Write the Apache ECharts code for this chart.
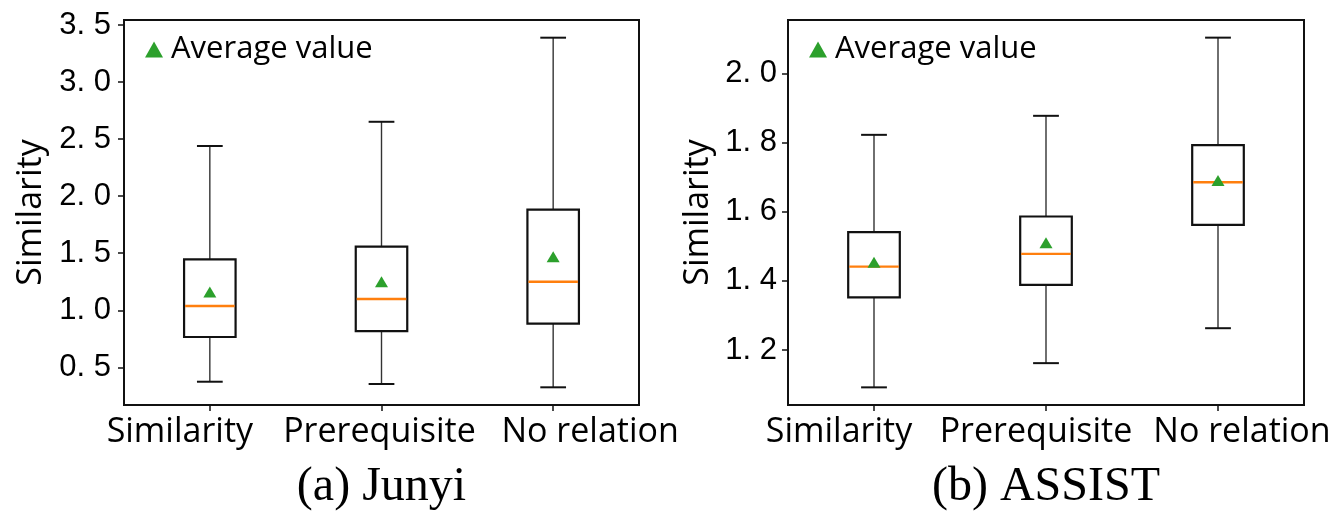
<!DOCTYPE html>
<html>
<head>
<meta charset="utf-8">
<script src="https://cdn.jsdelivr.net/npm/echarts@6/dist/echarts.min.js"></script>
<style>html,body{margin:0;padding:0;background:#fff}#c{width:1337px;height:512px}</style>
</head>
<body>
<div id="c"></div>
<script>
// ---- data ----
const categories = ['Similarity', 'Prerequisite', 'No relation'];

// (a) Junyi
const junyiLow    = [0.374, 0.354, 0.325];
const junyiQ1     = [0.766, 0.818, 0.883];
const junyiMedian = [1.038, 1.099, 1.250];
const junyiQ3     = [1.447, 1.558, 1.883];
const junyiHigh   = [2.440, 2.652, 3.389];
const junyiMean   = [1.160, 1.250, 1.470];
const junyiTicks  = [0.5, 1.0, 1.5, 2.0, 2.5, 3.0, 3.5];

// (b) ASSIST
const assistLow    = [1.092, 1.162, 1.263];
const assistQ1     = [1.352, 1.388, 1.562];
const assistMedian = [1.441, 1.478, 1.685];
const assistQ3     = [1.541, 1.586, 1.792];
const assistHigh   = [1.822, 1.877, 2.103];
const assistMean   = [1.454, 1.510, 1.690];
const assistTicks  = [1.2, 1.4, 1.6, 1.8, 2.0];

const titles = ['(a) Junyi', '(b) ASSIST'];
const yName = 'Similarity';
const legendName = 'Average value';

// ---- layout / style ----
const grids = [
  {left: 124, top: 20, width: 515, height: 385},
  {left: 788, top: 20, width: 516, height: 385}
];
const yRanges = [[0.17, 3.544], [1.041, 2.154]];
const tickSets = [junyiTicks, assistTicks];
const nameGaps = [76, 73];
const labelMargins = [13, 11];
const labelShifts = [[-30, -2, 37], [-35, -10, 24]];

// ---- build ----
function rows(lo, q1, med, q3, hi) {
  return categories.map((c, i) => [i, lo[i], q1[i], med[i], q3[i], hi[i]]);
}
function renderBox(params, api) {
  const idx = api.value(0);
  const x = api.coord([idx, 0])[0];
  const y = k => api.coord([idx, api.value(k)])[1];
  const yLo = y(1), yQ1 = y(2), yMed = y(3), yQ3 = y(4), yHi = y(5);
  const bw = api.size([1, 0])[0] * 0.3;
  const cw = bw * 0.5;
  const black = '#111';
  return {
    type: 'group',
    children: [
      {type: 'line', shape: {x1: x, y1: yHi, x2: x, y2: yQ3}, style: {stroke: '#333', lineWidth: 1.4}},
      {type: 'line', shape: {x1: x, y1: yQ1, x2: x, y2: yLo}, style: {stroke: '#333', lineWidth: 1.4}},
      {type: 'line', shape: {x1: x - cw / 2, y1: yHi, x2: x + cw / 2, y2: yHi}, style: {stroke: black, lineWidth: 2}},
      {type: 'line', shape: {x1: x - cw / 2, y1: yLo, x2: x + cw / 2, y2: yLo}, style: {stroke: black, lineWidth: 2}},
      {type: 'rect', shape: {x: x - bw / 2, y: yQ3, width: bw, height: yQ1 - yQ3}, style: {fill: 'rgba(0,0,0,0)', stroke: black, lineWidth: 2.2}},
      {type: 'line', shape: {x1: x - bw / 2 + 1, y1: yMed, x2: x + bw / 2 - 1, y2: yMed}, style: {stroke: '#ff7f0e', lineWidth: 2.4}}
    ]
  };
}
const tickFmt = v => v.toFixed(1).replace('.', '. ');
function richFor(shifts) {
  const r = {};
  shifts.forEach((s, i) => {
    r['s' + i] = {fontFamily: 'Open Sans', fontSize: 34, color: '#000',
      padding: s < 0 ? [0, -2 * s, 0, 0] : [0, 0, 0, 2 * s]};
  });
  return r;
}

const option = {
  animation: false,
  backgroundColor: '#fff',
  title: titles.map((t, i) => ({
    text: t,
    left: grids[i].left + grids[i].width / 2,
    textAlign: 'center',
    top: 463,
    padding: 0,
    textStyle: {fontFamily: 'Liberation Serif', fontWeight: 'normal', fontSize: 48, color: '#000'}
  })),
  legend: grids.map((g, i) => ({
    data: [{name: legendName, icon: 'triangle', itemStyle: {color: '#2ca02c', opacity: 1}}],
    left: g.left + 21,
    top: 34,
    itemWidth: 18,
    itemHeight: 16,
    padding: 0,
    selectedMode: false,
    textStyle: {fontFamily: 'Open Sans', fontSize: 31, color: '#000', padding: [0, 0, 0, 3]}
  })),
  grid: grids.map(g => Object.assign({show: true, borderColor: '#111', borderWidth: 2, backgroundColor: 'transparent'}, g)),
  xAxis: grids.map((g, i) => ({
    type: 'category',
    gridIndex: i,
    data: categories,
    boundaryGap: true,
    axisLine: {show: true, lineStyle: {color: '#111', width: 2}},
    axisTick: {show: true, alignWithLabel: true, length: 6, lineStyle: {color: '#111', width: 1.5}},
    axisLabel: {
      fontFamily: 'Open Sans', fontSize: 34, color: '#000', margin: 10, interval: 0,
      formatter: (v, idx) => '{s' + idx + '|' + v + '}',
      rich: richFor(labelShifts[i])
    },
    splitLine: {show: false}
  })),
  yAxis: grids.map((g, i) => ({
    type: 'value',
    gridIndex: i,
    min: yRanges[i][0],
    max: yRanges[i][1],
    axisLine: {show: true, lineStyle: {color: '#111', width: 2}},
    axisTick: {show: true, length: 6, customValues: tickSets[i], lineStyle: {color: '#111', width: 1.5}},
    axisLabel: {customValues: tickSets[i], formatter: tickFmt, fontFamily: 'Liberation Sans', fontSize: 31, color: '#000', margin: labelMargins[i]},
    splitLine: {show: false},
    name: yName,
    nameLocation: 'middle',
    nameGap: nameGaps[i],
    nameTextStyle: {fontFamily: 'Open Sans', fontSize: 34, color: '#000'}
  })),
  series: [
    {type: 'custom', xAxisIndex: 0, yAxisIndex: 0, renderItem: renderBox,
     data: rows(junyiLow, junyiQ1, junyiMedian, junyiQ3, junyiHigh), z: 2},
    {type: 'custom', xAxisIndex: 1, yAxisIndex: 1, renderItem: renderBox,
     data: rows(assistLow, assistQ1, assistMedian, assistQ3, assistHigh), z: 2},
    {type: 'scatter', name: legendName, xAxisIndex: 0, yAxisIndex: 0, symbol: 'triangle', symbolSize: [13, 11],
     itemStyle: {color: '#2ca02c', opacity: 1}, data: junyiMean.map((v, i) => [i, v]), z: 5},
    {type: 'scatter', name: legendName, xAxisIndex: 1, yAxisIndex: 1, symbol: 'triangle', symbolSize: [13, 11],
     itemStyle: {color: '#2ca02c', opacity: 1}, data: assistMean.map((v, i) => [i, v]), z: 5}
  ]
};
const chart = echarts.init(document.getElementById('c'), null, {renderer: 'canvas'});
chart.setOption(option);
</script>
</body>
</html>
